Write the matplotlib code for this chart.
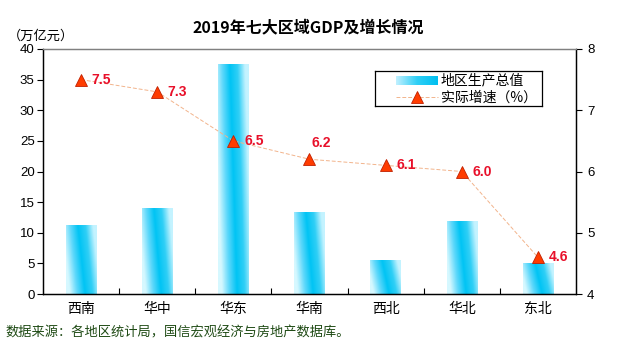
import matplotlib
matplotlib.use('Agg')
import matplotlib.pyplot as plt
import numpy as np
from matplotlib.colors import LinearSegmentedColormap

plt.rcParams['font.family'] = ['Liberation Sans', 'Noto Sans CJK SC', 'DejaVu Sans']

regions = ['西南', '华中', '华东', '华南', '西北', '华北', '东北']
gdp = [11.3, 14.1, 37.6, 13.4, 5.6, 12.0, 5.1]
growth = [7.5, 7.3, 6.5, 6.2, 6.1, 6.0, 4.6]

fig = plt.figure(figsize=(6.17, 3.6), dpi=100)
ax = fig.add_axes([0.0697, 0.1833, 0.8638, 0.6806])
ax2 = ax.twinx()

x = np.arange(len(regions))
w = 0.4
bar_cmap = LinearSegmentedColormap.from_list(
    'bar', ['#d6f8ff', '#5ed8fb', '#00c4f4', '#30cff6', '#c4f3ff'])
grad = np.linspace(0, 1, 64).reshape(1, -1)
grad = grad + np.linspace(0.12, -0.12, 64).reshape(-1, 1)  # slight diagonal

bars = ax.bar(x, gdp, width=w, color='none', edgecolor='none', zorder=2)
for b in bars:
    x0, y0 = b.get_x(), b.get_y()
    img = ax.imshow(grad, cmap=bar_cmap, aspect='auto', vmin=0, vmax=1,
                    extent=[x0, x0 + b.get_width(), y0, y0 + b.get_height()],
                    zorder=2, interpolation='bilinear')
    img.set_clip_path(b)

ax.set_xlim(-0.5, len(regions) - 0.5)
ax.set_ylim(0, 40)
ax.set_yticks(range(0, 41, 5))
ax.set_xticks(x)
ax.set_xticklabels(regions, fontsize=10)
ax.set_xticks(np.arange(0.5, len(regions) - 0.5, 1), minor=True)
ax.tick_params(axis='x', which='major', length=0, pad=6)
ax.tick_params(axis='x', which='minor', direction='in', length=4, width=0.8)
ax.tick_params(axis='y', direction='out', length=4, labelsize=9.5, pad=2)

ax2.plot(x, growth, color='#f2b48c', linestyle=(0, (4, 2)), linewidth=0.7,
         zorder=3)
ax2.plot(x, growth, linestyle='none', marker='^', markersize=8,
         markerfacecolor='#ff3c00', markeredgecolor='#c02000',
         markeredgewidth=0.6, zorder=4)
for xi, g in zip(x, growth):
    if regions[xi] == '华南':
        dx, dy = 0.02, 0.26   # label sits above the marker here
    else:
        dx, dy = 0.14, 0.0
    ax2.text(xi + dx, g + dy, f'{g:.1f}',
             color='#e8102a', fontsize=10, fontweight='bold',
             ha='left', va='center', zorder=5)
ax2.set_ylim(4, 8)
ax2.set_yticks(range(4, 9))
ax2.tick_params(axis='y', direction='out', length=4, labelsize=9.5, pad=4)

for a in (ax, ax2):
    a.spines['top'].set_color('#808080')
    a.spines['left'].set_color('black')
    a.spines['bottom'].set_color('black')
    a.spines['right'].set_color('black')
    for s in a.spines.values():
        s.set_linewidth(0.9)
ax.set_zorder(ax2.get_zorder() - 1)
ax.patch.set_visible(True)
ax2.patch.set_visible(False)

# legend box
leg_ax = fig.add_axes([375 / 617, 1 - 106 / 360, 167 / 617, 35 / 360])
leg_ax.set_xticks([])
leg_ax.set_yticks([])
for s in leg_ax.spines.values():
    s.set_color('black')
    s.set_linewidth(0.9)
lg = np.linspace(0, 1, 64).reshape(1, -1)
leg_ax.imshow(lg, cmap=LinearSegmentedColormap.from_list(
    'lg', ['#c0f0ff', '#30cff6', '#00bff0']), aspect='auto',
    extent=[21, 63, 14, 5], interpolation='bilinear')
leg_ax.text(66, 9.5, '地区生产总值', fontsize=10, va='center', ha='left',
            family=['Noto Sans CJK SC', 'DejaVu Sans'])
leg_ax.plot([21, 63], [26, 26], color='#f2b48c', linestyle=(0, (4, 2)), linewidth=0.7)
leg_ax.plot([42], [26], marker='^', markersize=8, markerfacecolor='#ff3c00',
            markeredgecolor='#c02000', markeredgewidth=0.6)
leg_ax.text(66, 26.5, '实际增速（%）', fontsize=10, va='center', ha='left',
            family=['Noto Sans CJK SC', 'DejaVu Sans'])
leg_ax.set_xlim(0, 167)
leg_ax.set_ylim(35, 0)

fig.text(0.5, 1 - 27 / 360, '2019年七大区域GDP及增长情况', ha='center', va='center',
         fontsize=11.5, fontweight='bold',
         family=['Noto Sans CJK SC', 'DejaVu Sans'])
fig.text(8 / 617, 1 - 36 / 360, '（万亿元）', ha='left', va='center', fontsize=9.5,
         family=['Noto Sans CJK SC', 'DejaVu Sans'])
fig.text(5 / 617, 1 - 333 / 360, '数据来源：各地区统计局，国信宏观经济与房地产数据库。',
         ha='left', va='center', fontsize=9.5, color='#1e4a14',
         family=['Noto Sans CJK SC', 'DejaVu Sans'])

fig.savefig('out.png', dpi=100, facecolor='white')
